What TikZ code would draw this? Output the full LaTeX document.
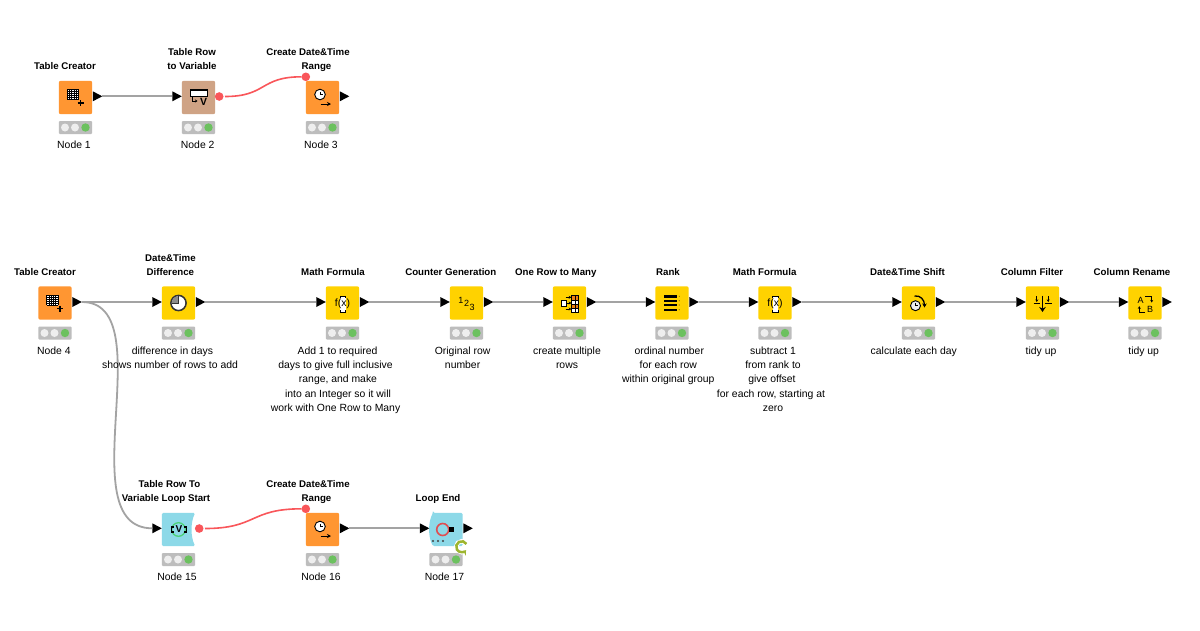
\documentclass[tikz,border=0pt]{standalone}
\usepackage{fontspec}
\setmainfont{Liberation Sans}
\usetikzlibrary{shapes.geometric,arrows.meta}
\definecolor{korange}{HTML}{FF9632}
\definecolor{kyellow}{HTML}{FFD200}
\definecolor{ktan}{HTML}{CFA385}
\definecolor{kblue}{HTML}{8DD9E8}
\definecolor{kgreen}{HTML}{6CC15F}
\definecolor{kbar}{HTML}{BDBDBD}
\definecolor{klight}{HTML}{EEEEEE}
\definecolor{kline}{HTML}{A3A3A3}
\definecolor{kred}{HTML}{F9565A}
\definecolor{kloop}{HTML}{9DB52E}
\tikzset{
  x=1pt,y=-1pt,
  kbox/.style={minimum size=33.4pt,inner sep=0pt,outer sep=0pt,rounded corners=2pt},
  kbar/.style={minimum width=33.4pt,minimum height=13pt,inner sep=0pt,outer sep=0pt,fill=kbar,rounded corners=1pt},
  kport/.style={isosceles triangle,isosceles triangle stretches,minimum width=10pt,minimum height=9.5pt,inner sep=0pt,outer sep=0pt,fill=black},
  kvar/.style={circle,fill=kred,minimum size=8.6pt,inner sep=0pt,outer sep=0pt},
  kconn/.style={kline,line width=2pt},
  kflow/.style={kred,line width=1.6pt},
  ktitle/.style={font=\fontsize{9.7}{14.4}\selectfont\bfseries,align=center,inner sep=0pt,anchor=south},
  kcaption/.style={font=\fontsize{10.4}{14.4}\selectfont,align=center,inner sep=0pt,anchor=north},
  ksmall/.style={-{Stealth[length=2.6pt,width=3pt]},black,line width=.8pt},
  kglyph/.style={inner sep=0pt,font=\fontsize{#1}{#1}\selectfont},
}
\newcommand{\kpy}{1.2pt}
% id, x, y, fill, icon
\newcommand{\knode}[5]{%
  \begin{scope}[shift={(#2,#3)}]
    \node[kbox,fill=#4] (#1) at (0,0) {};
    \node[kbar] (#1-s) at (0,30) {};
    \fill[klight] (-10.5,30) circle (4);
    \fill[klight] (-0.5,30) circle (4);
    \fill[kgreen] (10,30) circle (4.2);
    #5
  \end{scope}}
\newcommand{\inport}[1]{\node[kport,anchor=apex,yshift=\kpy] (#1-i) at (#1.west) {};}
\newcommand{\outport}[1]{\node[kport,anchor=lower side,xshift=.6pt,yshift=\kpy] (#1-o) at (#1.east) {};}
\newcommand{\varout}[1]{\node[kvar,outer sep=1.5pt,xshift=4pt,yshift=1pt] (#1-v) at (#1.east) {};}
\newcommand{\varin}[1]{\node[kvar,yshift=4pt] (#1-v) at (#1.north west) {};}
\newcommand{\kttl}[4]{\node[ktitle] (#1) at (#2,#3) {\strut #4\strut};}
\newcommand{\kcpt}[4]{\node[kcaption] (#1) at (#2,#3) {\strut #4\strut};}
% icons
\newcommand{\icongrid}{%
  \fill[white] (-8.5,-8) rectangle (3,2);
  \foreach \kg in {-8.5,-6.2,-3.9,-1.6,0.7,3}{\draw[black,line width=.6pt] (\kg,-8) -- (\kg,2);}
  \foreach \kg in {-8,-6,-4,-2,0,2}{\draw[black,line width=.6pt] (-8.5,\kg) -- (3,\kg);}
  \draw[black,line width=1.5pt] (2,5.5) -- (8,5.5) (5,2.5) -- (5,8.5);}
\newcommand{\iconclockarrow}{%
  \draw[black,fill=white,line width=.9pt] (-2.5,-3) circle (5.3);
  \draw[black,line width=.7pt] (-2.5,-6) -- (-2.5,-3) -- (0.5,-3);
  \draw[-{Stealth[length=4pt,width=4pt]},black,line width=1pt] (-2,6.5) -- (8.5,6.5);}
\newcommand{\iconfx}[1]{%
  \fill[white] (-2.2,-7) rectangle (3.3,9);
  \draw[black,line width=1pt] (-2.2,-5) -- (-2.2,-7) -- (3.3,-7) -- (3.3,-5);
  \draw[black,line width=1pt] (-2.2,7) -- (-2.2,9) -- (3.3,9) -- (3.3,7);
  \node[kglyph=10.5] (#1) at (0,0.5) {f(x)};}
\begin{document}
\begin{tikzpicture}
\useasboundingbox (0,0) rectangle (1200,630);
\fill[white] (0,0) rectangle (1200,630);

% --- top row
\knode{n1}{75.5}{97.5}{korange}{\icongrid}
\knode{n2}{198.5}{97.5}{ktan}{%
  \draw[black,fill=white,line width=.9pt] (-8,-8) rectangle (9,-1.5);
  \fill[black] (-8,-8) rectangle (9,-6.4);
  \draw[-{Stealth[length=2.5pt,width=3pt]},black,line width=.8pt] (-6,-0.5) -- (-6,3.5) -- (-1,3.5);
  \node[kglyph=10.5,font=\fontsize{10.5}{10.5}\selectfont\bfseries] (n2g) at (5,4.2) {V};}
\knode{n3}{322.5}{97.5}{korange}{\iconclockarrow}
\outport{n1}\inport{n2}\varout{n2}\varin{n3}\outport{n3}
\draw[kflow] (n2-v.east) .. controls +(42,0) and +(-42,0) .. (n3-v.west);

% --- middle row
\renewcommand{\kpy}{1pt}
\knode{n4}{55}{303}{korange}{\icongrid}
\knode{n5}{178.5}{303}{kyellow}{%
  \draw[black!80,fill=white,line width=1.5pt] (0,0) circle (7.6);
  \fill[black!45] (0,0) -- (0,-6.8) arc (-90:-180:6.8) -- cycle;
  \draw[black!80,line width=.9pt] (0,-6.8) -- (0,0) -- (-6.8,0);}
\knode{n6}{342.5}{303}{kyellow}{\iconfx{n6g}}
\knode{n7}{466.5}{303}{kyellow}{%
  \node[kglyph=9] (n7a) at (-5.7,-2.5) {1};
  \node[kglyph=9] (n7b) at (0,0) {2};
  \node[kglyph=9] (n7c) at (5.5,4.5) {3};}
\knode{n8}{569.5}{303}{kyellow}{%
  \draw[black,fill=white,line width=.8pt] (-8,-2.3) rectangle (-3.3,3);
  \draw[ksmall] (-4,-5.7) -- (1.8,-5.7);
  \draw[ksmall] (-3,0) -- (1.8,0);
  \draw[ksmall] (-4,6) -- (1.8,6);
  \fill[white] (2,-7.3) rectangle (8.7,9.3);
  \fill[orange!70!brown] (2,-7.3) rectangle (8.7,-3);
  \fill[orange!70!brown] (2,1) rectangle (8.7,5);
  \draw[black,line width=.8pt] (2,-7.3) rectangle (8.7,9.3);
  \draw[black,line width=.6pt] (5.3,-7.3) -- (5.3,9.3) (2,-3) -- (8.7,-3) (2,1) -- (8.7,1) (2,5) -- (8.7,5);}
\knode{n9}{672}{303}{kyellow}{%
  \foreach \ky in {-6.7,-2.3,2,6.7}{
    \draw[black,line width=2.4pt] (-8,\ky) -- (5,\ky);
    \fill[black!45!kyellow] (7.3,\ky) circle (.6);}}
\knode{n10}{775}{303}{kyellow}{\iconfx{n10g}}
\knode{n11}{918.5}{303}{kyellow}{%
  \draw[black,fill=klight,line width=.9pt] (-3,2.7) circle (5);
  \draw[black,line width=.6pt] (-3,0) -- (-3,2.7) -- (-0.5,2.7);
  \draw[-{Stealth[length=4pt,width=4.5pt]},black,line width=1.3pt] (-4,-7) .. controls (2,-8) and (6,-3) .. (6,4.5);}
\knode{n12}{1042.5}{303}{kyellow}{%
  \draw[-{Stealth[length=5pt,width=6.5pt]},black,line width=1.5pt] (0,-7.5) -- (0,9);
  \draw[ksmall] (-5.7,-7) -- (-5.7,-1);
  \draw[ksmall] (5.7,-7) -- (5.7,-1);
  \draw[black,line width=1pt] (-9,0.5) -- (-2.5,0.5) (2.5,0.5) -- (9,0.5);}
\knode{n13}{1145}{303}{kyellow}{%
  \node[kglyph=9] (n13a) at (-4.3,-3) {A};
  \node[kglyph=9] (n13b) at (5,6.7) {B};
  \draw[ksmall] (0,-6.7) -- (6.7,-6.7) -- (6.7,-0.5);
  \draw[ksmall] (0,9.3) -- (-5.7,9.3) -- (-5.7,3.2);}
\outport{n4}
\foreach \kn in {n5,n6,n7,n8,n9,n10,n11,n12,n13}{\inport{\kn}\outport{\kn}}
\draw[kconn] (n4-o.apex) -- (n5-i.lower side);
\draw[kconn] (n5-o.apex) -- (n6-i.lower side);
\draw[kconn] (n6-o.apex) -- (n7-i.lower side);
\draw[kconn] (n7-o.apex) -- (n8-i.lower side);
\draw[kconn] (n8-o.apex) -- (n9-i.lower side);
\draw[kconn] (n9-o.apex) -- (n10-i.lower side);
\draw[kconn] (n10-o.apex) -- (n11-i.lower side);
\draw[kconn] (n11-o.apex) -- (n12-i.lower side);
\draw[kconn] (n12-o.apex) -- (n13-i.lower side);

% --- bottom row
\renewcommand{\kpy}{1.2pt}
\knode{n15}{178.5}{529.5}{none}{%
  \fill[kblue,rounded corners=1.5pt] (-16.7,-16.7) -- (16.7,-16.7) .. controls (12,-7) and (12,7) .. (16.7,16.7) -- (-16.7,16.7) -- cycle;
  \draw[teal!50!green!70,line width=1.3pt] (0,0) circle (6.8);
  \draw[black,line width=1.1pt] (-4.5,-2.5) -- (-7,-2.5) -- (-7,2.5) -- (-4.5,2.5);
  \draw[black,line width=1.1pt] (5.5,-2.5) -- (8,-2.5) -- (8,2.5) -- (5.5,2.5);
  \node[kglyph=10,font=\fontsize{10}{10}\selectfont\bfseries] (n15g) at (0.5,0) {V};}
\knode{n16}{322.5}{529.5}{korange}{\iconclockarrow}
\knode{n17}{446}{529.5}{none}{%
  \fill[kblue,rounded corners=1.5pt] (-13,-16.7) -- (16.7,-16.7) -- (16.7,16.7) -- (-13,16.7) .. controls (-18,7) and (-18,-7) .. cycle;
  \draw[kred!90!black,line width=1.6pt] (-3.3,0) circle (6);
  \fill[black] (3.2,-2.5) rectangle (8.2,2.5);
  \foreach \kx in {-13,-8,-3}{\fill[black!75] (\kx,11.5) circle (1.2);}}
\inport{n15}\varout{n15}\varin{n16}\outport{n16}\inport{n17}\outport{n17}
\draw[kflow] (n15-v.east) .. controls +(52,0) and +(-52,0) .. (n16-v.west);
\draw[kconn,line width=1.8pt] (n4-o.apex) .. controls +(82,0) and +(-85,0) .. (n15-i.lower side);
\draw[kconn] (n1-o.apex) -- (n2-i.lower side);
\draw[kconn] (n16-o.apex) -- (n17-i.lower side);
\begin{scope}[shift={(461.7,546.7)}]
  \draw[white,line width=4.4pt] (0,0) circle (5.5);
  \draw[-{Stealth[length=4.5pt,width=6.5pt]},kloop,line width=2.5pt] (4.76,-2.75) arc (-30:-322:5.5);
\end{scope}

% --- titles
\kttl{t1}{65}{74}{Table Creator}
\kttl{t2}{192}{74}{Table Row\\to Variable}
\kttl{t3}{308}{74}{Create Date\&Time\\\hspace*{17pt}Range}
\kttl{t4}{45}{280}{Table Creator}
\kttl{t5}{170.4}{280}{Date\&Time\\Difference}
\kttl{t6}{333}{280}{Math Formula}
\kttl{t7}{450.8}{280}{Counter Generation}
\kttl{t8}{555.8}{280}{One Row to Many}
\kttl{t9}{668}{280}{Rank}
\kttl{t10}{764.7}{280}{Math Formula}
\kttl{t11}{907.5}{280}{Date\&Time Shift}
\kttl{t12}{1032}{280}{Column Filter}
\kttl{t13}{1132}{280}{Column Rename}
\kttl{t15}{166}{506.2}{\hspace*{7pt}Table Row To\\Variable Loop Start}
\kttl{t16}{308}{506.2}{Create Date\&Time\\\hspace*{17pt}Range}
\kttl{t17}{438}{506.2}{Loop End}

% --- captions
\kcpt{c1}{74}{138.3}{Node 1}
\kcpt{c2}{197.7}{138.3}{Node 2}
\kcpt{c3}{321}{138.3}{Node 3}
\kcpt{c4}{53.8}{343.8}{Node 4}
\kcpt{c5}{170}{343.8}{\hspace*{5pt}difference in days\\shows number of rows to add}
\kcpt{c6}{335.5}{343.8}{\hspace*{4pt}Add 1 to required\\days to give full inclusive\\\hspace*{5pt}range, and make\\\hspace*{5pt}into an Integer so it will\\work with One Row to Many}
\kcpt{c7}{462.6}{343.8}{Original row\\number}
\kcpt{c8}{567}{343.8}{create multiple\\rows}
\kcpt{c9}{668.3}{343.8}{\hspace*{2pt}ordinal number\\for each row\\within original group}
\kcpt{c10}{771}{343.8}{\hspace*{4pt}subtract 1\\\hspace*{4pt}from rank to\\\hspace*{2pt}give offset\\for each row, starting at\hspace*{3pt}\\\hspace*{4pt}zero}
\kcpt{c11}{913.8}{343.8}{calculate each day}
\kcpt{c12}{1041}{343.8}{tidy up}
\kcpt{c13}{1143.7}{343.8}{tidy up}
\kcpt{c15}{177}{570.3}{Node 15}
\kcpt{c16}{321}{570.3}{Node 16}
\kcpt{c17}{444.5}{570.3}{Node 17}
\end{tikzpicture}
\end{document}
